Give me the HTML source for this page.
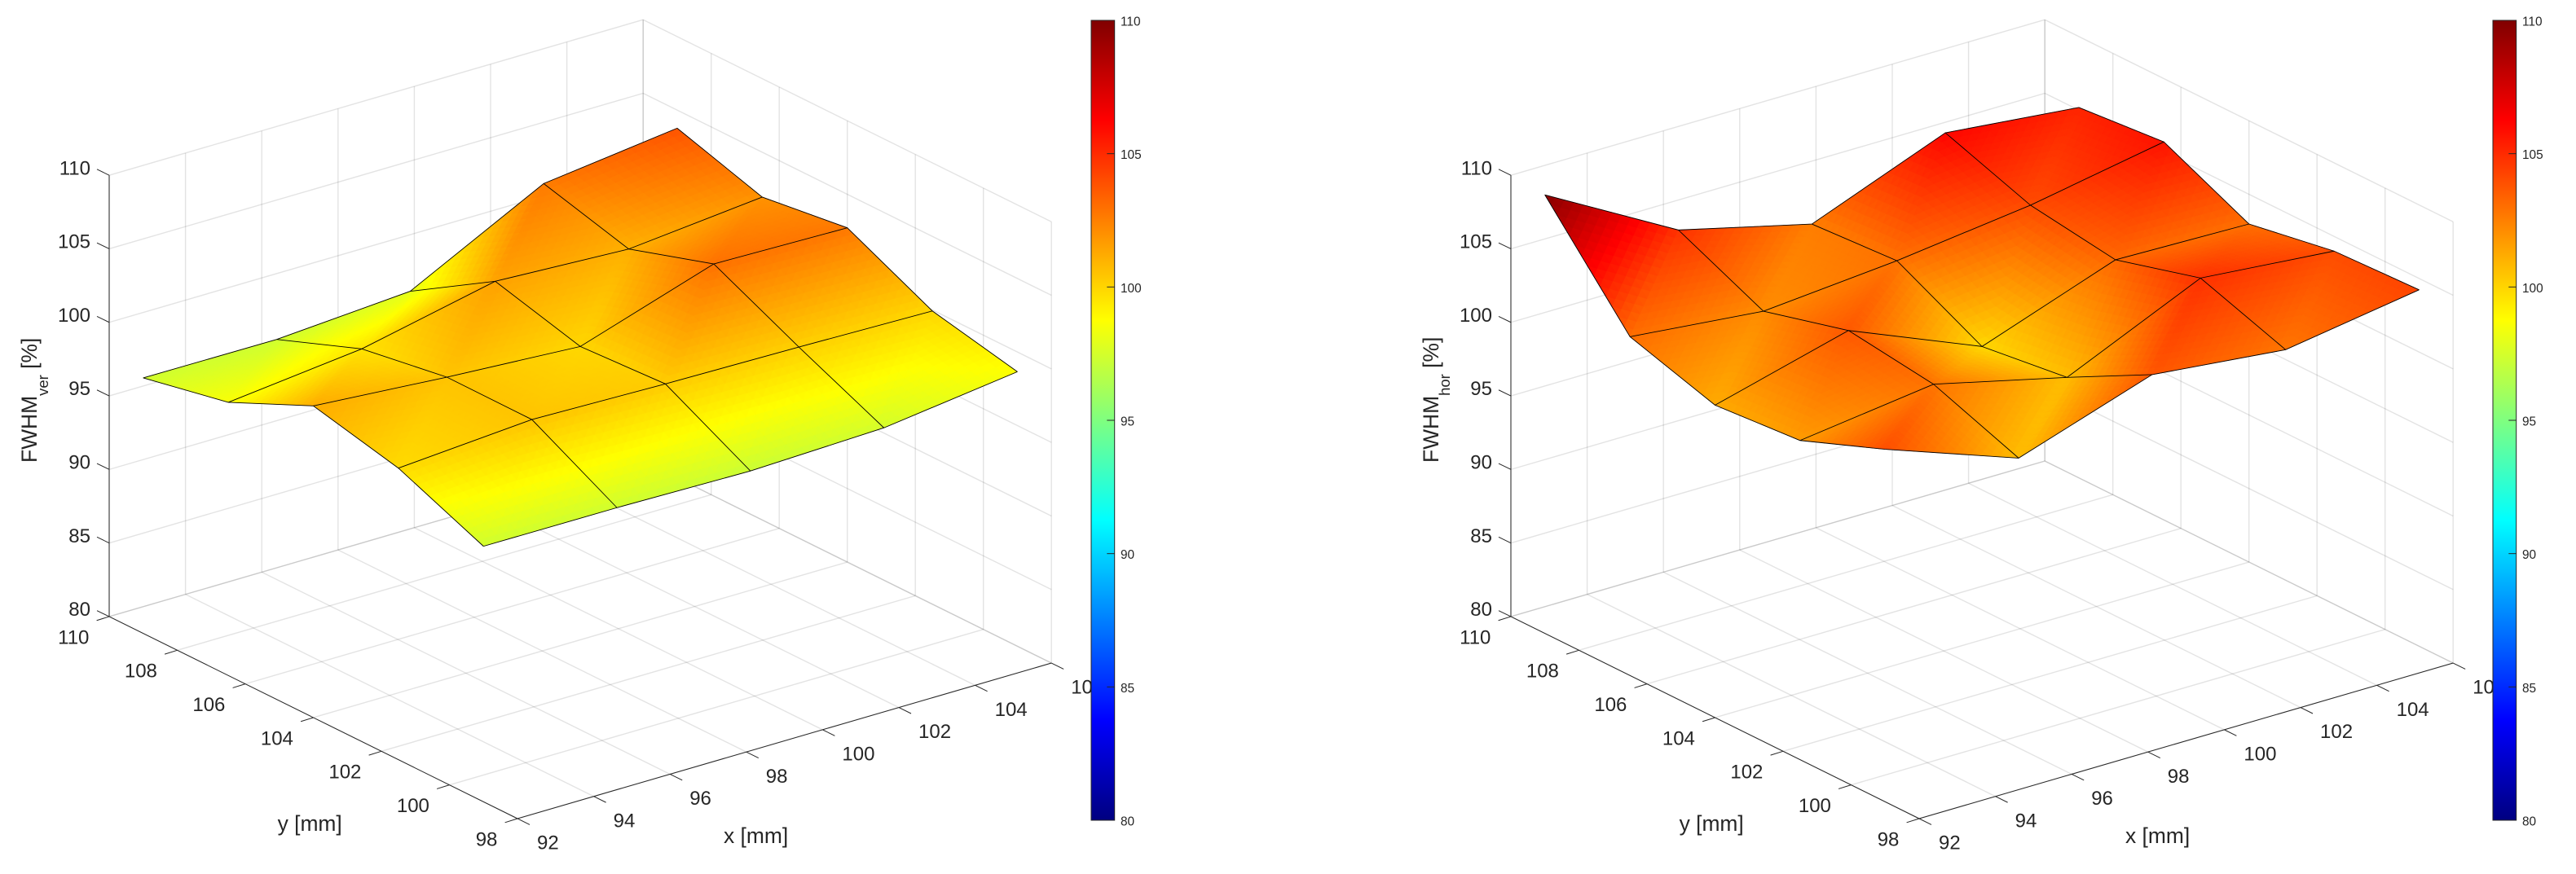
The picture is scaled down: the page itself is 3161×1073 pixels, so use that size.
<!DOCTYPE html>
<html lang="en">
<head>
<meta charset="utf-8">
<title>FWHM surface plots</title>
<style>
html,body{margin:0;padding:0;background:#fff;}
svg{display:block;font-family:"Liberation Sans",Arial,sans-serif;fill:#262626;}
.lbl{font-size:26.4px;}
</style>
</head>
<body>
<svg id="figure" xmlns="http://www.w3.org/2000/svg" width="3161" height="1073" viewBox="0 0 3161 1073">
  <rect x="0" y="0" width="3161" height="1073" fill="#fff"/>
  <g id="chart-ver">
    <text class="lbl" x="888" y="1035">x [mm]</text>
    <text class="lbl" x="340.6" y="1020">y [mm]</text>
    <text class="lbl" transform="translate(45,568) rotate(-90)">FWHM<tspan font-size="18.5" dy="14">ver</tspan><tspan dy="-14"> [%]</tspan></text>
  </g>
  <g id="chart-hor" transform="translate(1720,0)">
    <text class="lbl" x="888" y="1035">x [mm]</text>
    <text class="lbl" x="340.6" y="1020">y [mm]</text>
    <text class="lbl" transform="translate(45,568) rotate(-90)">FWHM<tspan font-size="18.5" dy="14">hor</tspan><tspan dy="-14"> [%]</tspan></text>
  </g>
</svg>
<script>
// Surface sample positions
const xGrid = [92, 95.5, 99, 102.5, 106];
const yGrid = [99, 101.5, 104, 106.5, 109];
// FWHM values: one row per yGrid entry, one column per xGrid entry
const fwhmVer = [
  [97.37, 97.35, 97.20, 97.49, 98.66],
  [99.82, 100.48, 100.26, 100.12, 99.93],
  [101.19, 100.50, 99.94, 102.91, 102.72],
  [98.57, 99.56, 101.51, 101.06, 101.95],
  [97.37, 97.34, 97.97, 102.65, 103.77]
];
const fwhmHor = [
  [103.96, 100.72, 103.75, 102.80, 104.23],
  [101.70, 102.88, 100.70, 104.81, 104.00],
  [101.24, 103.67, 99.94, 103.19, 102.98],
  [103.03, 102.12, 102.91, 104.04, 105.70],
  [109.81, 104.78, 102.54, 106.10, 105.18]
];
// Axis ticks
const xTicks = [92, 94, 96, 98, 100, 102, 104, 106];
const yTicks = [98, 100, 102, 104, 106, 108, 110];
const zTicks = [80, 85, 90, 95, 100, 105, 110];
const colorbarTicks = [80, 85, 90, 95, 100, 105, 110];

const SVGNS = 'http://www.w3.org/2000/svg';
const xMin = 92, xMax = 106, yMin = 98, yMax = 110, zMin = 80, zMax = 110;
const SUBDIV = 14;
const INK = '#262626';
const GRID = 'rgba(38,38,38,0.13)';
const GRID_W = 1.4;

// Orthographic projection of the MATLAB 3-D axes
function proj(x, y, z) {
  return [
    635 + 46.8 * (x - xMin) - 41.75 * (y - yMin),
    1005 - 13.64 * (x - xMin) - 20.67 * (y - yMin) - 18.06 * (z - zMin)
  ];
}
function clamp01(v) { return Math.max(0, Math.min(1, v)); }
function jet(v) {
  const t = clamp01((v - zMin) / (zMax - zMin));
  const r = clamp01(1.5 - Math.abs(4 * t - 3));
  const g = clamp01(1.5 - Math.abs(4 * t - 2));
  const b = clamp01(1.5 - Math.abs(4 * t - 1));
  return 'rgb(' + Math.round(r * 255) + ',' + Math.round(g * 255) + ',' + Math.round(b * 255) + ')';
}
function mk(tag, attrs, parent) {
  const el = document.createElementNS(SVGNS, tag);
  for (const k in attrs) el.setAttribute(k, attrs[k]);
  parent.appendChild(el);
  return el;
}
function lineBetween(a, b, stroke, width, parent) {
  return mk('line', { x1: a[0], y1: a[1], x2: b[0], y2: b[1], stroke: stroke, 'stroke-width': width }, parent);
}
function ptsAttr(list) {
  return list.map(function (p) { return p[0].toFixed(2) + ',' + p[1].toFixed(2); }).join(' ');
}

function drawGrid(root) {
  const g = mk('g', {}, root);
  
  
  xTicks.forEach(function (x) {
    const floorLine = lineBetween(proj(x, yMin, zMin), proj(x, yMax, zMin), GRID, GRID_W, g);
    
    
    const wallLine = lineBetween(proj(x, yMax, zMin), proj(x, yMax, zMax), GRID, GRID_W, g);
    
    
  });
  yTicks.forEach(function (y) {
    const floorLine = lineBetween(proj(xMin, y, zMin), proj(xMax, y, zMin), GRID, GRID_W, g);
    
    
    const wallLine = lineBetween(proj(xMax, y, zMin), proj(xMax, y, zMax), GRID, GRID_W, g);
    
    
  });
  zTicks.forEach(function (z) {
    const leftWall = lineBetween(proj(xMin, yMax, z), proj(xMax, yMax, z), GRID, GRID_W, g);
    
    
    const rightWall = lineBetween(proj(xMax, yMax, z), proj(xMax, yMin, z), GRID, GRID_W, g);
    
    
  });
}

// Each grid cell is split along the (i,j)-(i+1,j+1) diagonal; colour is interpolated per triangle.
function vertexAt(values, i, j) {
  return [xGrid[i], yGrid[j], values[j][i]];
}
function mixVertex(A, B, C, a, b) {
  const wa = a / SUBDIV, wb = b / SUBDIV, w0 = 1 - wa - wb;
  return [
    A[0] * w0 + B[0] * wa + C[0] * wb,
    A[1] * w0 + B[1] * wa + C[1] * wb,
    A[2] * w0 + B[2] * wa + C[2] * wb
  ];
}
function emitFacet(g, p, q, r) {
  const col = jet((p[2] + q[2] + r[2]) / 3);
  const facet = mk('polygon', {
    points: ptsAttr([proj(p[0], p[1], p[2]), proj(q[0], q[1], q[2]), proj(r[0], r[1], r[2])]),
    fill: col, stroke: col, 'stroke-width': 0.6
  }, g);
  
  
}
function drawTriangle(g, A, B, C) {
  for (let a = 0; a < SUBDIV; a++) {
    for (let b = 0; b < SUBDIV - a; b++) {
      emitFacet(g, mixVertex(A, B, C, a, b), mixVertex(A, B, C, a + 1, b), mixVertex(A, B, C, a, b + 1));
      if (a + b < SUBDIV - 1) {
        emitFacet(g, mixVertex(A, B, C, a + 1, b), mixVertex(A, B, C, a + 1, b + 1), mixVertex(A, B, C, a, b + 1));
      }
    }
  }
}
function drawSurface(root, values) {
  const g = mk('g', {}, root);
  
  
  for (let j = yGrid.length - 2; j >= 0; j--) {
    for (let i = xGrid.length - 2; i >= 0; i--) {
      const p00 = vertexAt(values, i, j);
      const p10 = vertexAt(values, i + 1, j);
      const p11 = vertexAt(values, i + 1, j + 1);
      const p01 = vertexAt(values, i, j + 1);
      drawTriangle(g, p00, p11, p01);
      drawTriangle(g, p00, p10, p11);
    }
  }
  xGrid.forEach(function (x, i) {
    const pts = yGrid.map(function (y, j) { return proj(x, y, values[j][i]); });
    const mesh = mk('polyline', { points: ptsAttr(pts), fill: 'none', stroke: '#000', 'stroke-width': 0.9 }, g);
    
    
  });
  yGrid.forEach(function (y, j) {
    const pts = xGrid.map(function (x, i) { return proj(x, y, values[j][i]); });
    const mesh = mk('polyline', { points: ptsAttr(pts), fill: 'none', stroke: '#000', 'stroke-width': 0.9 }, g);
    
    
  });
}

function drawAxes(root) {
  const g = mk('g', {}, root);
  
  
  const xAxis = lineBetween(proj(xMin, yMin, zMin), proj(xMax, yMin, zMin), INK, 1, g);
  
  
  const yAxis = lineBetween(proj(xMin, yMin, zMin), proj(xMin, yMax, zMin), INK, 1, g);
  
  
  const zAxis = lineBetween(proj(xMin, yMax, zMin), proj(xMin, yMax, zMax), INK, 1, g);
  
  

  xTicks.forEach(function (x) {
    const p = proj(x, yMin, zMin);
    const tick = lineBetween(p, [p[0] + 15, p[1] + 7.4], INK, 1, g);
    
    
    const label = mk('text', { x: p[0] + 24, y: p[1] + 37.6, 'font-size': 24 }, g);
    label.textContent = String(x);
    
    
  });
  yTicks.forEach(function (y) {
    const p = proj(xMin, y, zMin);
    const tick = lineBetween(p, [p[0] - 15.4, p[1] + 4.8], INK, 1, g);
    
    
    const label = mk('text', { x: p[0] - 24.6, y: p[1] + 33.4, 'font-size': 24, 'text-anchor': 'end' }, g);
    label.textContent = String(y);
    
    
  });
  zTicks.forEach(function (z) {
    const p = proj(xMin, yMax, z);
    const tick = lineBetween(p, [p[0] - 15, p[1] - 7.3], INK, 1, g);
    
    
    const label = mk('text', { x: p[0] - 23, y: p[1] - 0.9, 'font-size': 24, 'text-anchor': 'end' }, g);
    label.textContent = String(z);
    
    
  });
}

const cbLeft = 1339, cbRight = 1367.7, cbTop = 25, cbBottom = 1007;
function cbY(v) { return cbBottom - (v - zMin) / (zMax - zMin) * (cbBottom - cbTop); }

function drawColorbar(root, gradId) {
  const g = mk('g', {}, root);
  
  
  const backing = mk('rect', { x: cbLeft, y: 0, width: 90, height: 1073, fill: '#fff' }, g);
  
  
  const defs = mk('defs', {}, g);
  const grad = mk('linearGradient', { id: gradId, x1: 0, y1: 1, x2: 0, y2: 0 }, defs);
  [0, 0.125, 0.375, 0.625, 0.875, 1].forEach(function (t) {
    mk('stop', { offset: t, 'stop-color': jet(zMin + t * (zMax - zMin)) }, grad);
  });
  const bar = mk('rect', {
    x: cbLeft, y: cbTop, width: cbRight - cbLeft, height: cbBottom - cbTop,
    fill: 'url(#' + gradId + ')', stroke: INK, 'stroke-width': 1
  }, g);
  
  
  colorbarTicks.forEach(function (v) {
    const y = cbY(v);
    const tick = lineBetween([cbRight - 9.4, y], [cbRight, y], INK, 1, g);
    
    
    const label = mk('text', { x: 1375, y: y + 6.5, 'font-size': 15.4 }, g);
    label.textContent = String(v);
    
    
  });
}

function drawChart(rootId, values, gradId) {
  const root = document.getElementById(rootId);
  const titles = Array.prototype.slice.call(root.childNodes);
  drawGrid(root);
  drawSurface(root, values);
  drawAxes(root);
  drawColorbar(root, gradId);
  titles.forEach(function (n) { root.appendChild(n); });
}
drawChart('chart-ver', fwhmVer, 'jet-ver');
drawChart('chart-hor', fwhmHor, 'jet-hor');
</script>
</body>
</html>
